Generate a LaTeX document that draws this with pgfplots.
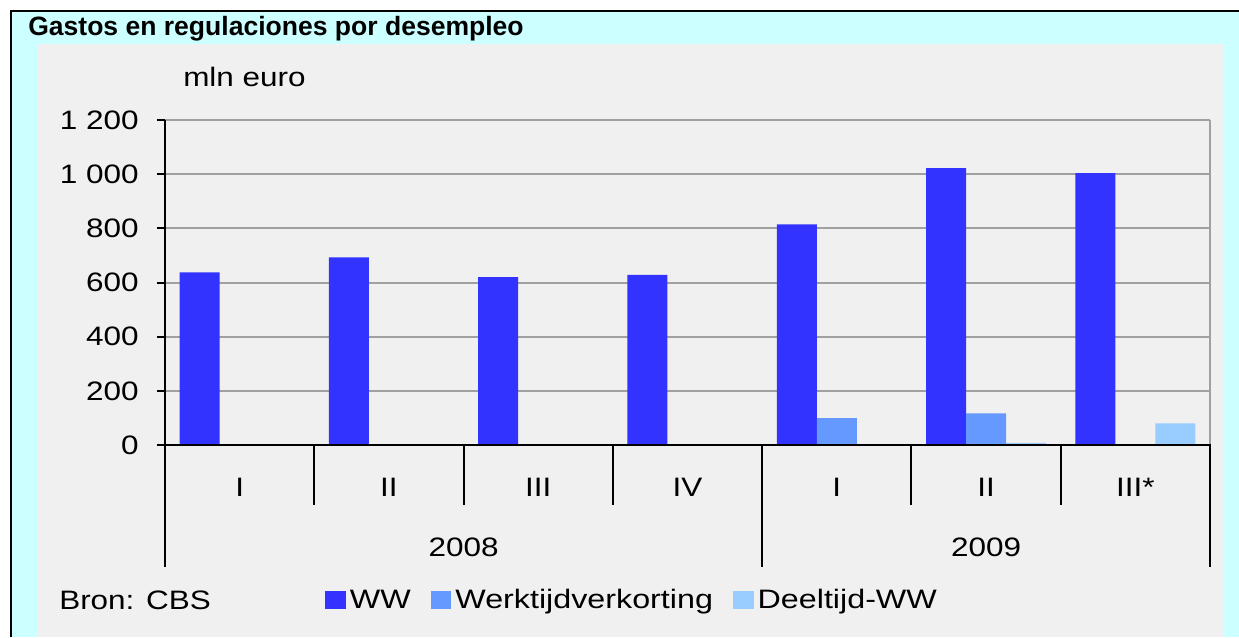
\documentclass[border=0pt]{standalone}
\usepackage{fontspec}
\setmainfont{Liberation Sans}[FakeStretch=1.18]
\newfontfamily\titlefont{Liberation Sans}
\newfontfamily\legfont{Liberation Sans}[FakeStretch=1.21]
\usepackage{pgfplots}
\pgfplotsset{compat=1.18}
\definecolor{bgcyan}{RGB}{204,255,255}
\definecolor{panel}{RGB}{240,240,240}
\definecolor{cww}{RGB}{51,51,255}
\definecolor{cwtv}{RGB}{102,153,255}
\definecolor{cdww}{RGB}{153,204,255}
\definecolor{gridc}{RGB}{160,160,160}
\newcommand{\txt}{\fontsize{20}{24}\selectfont}
\pgfplotsset{sqlegend/.style={legend image code/.code={\fill[##1] (0pt,-7pt) rectangle (15.5pt,7pt);}}}
\begin{document}
\begin{tikzpicture}[x=0.75pt,y=0.75pt]
\fill[white] (0,0) rectangle (1239,637);
\fill[bgcyan] (11,0) rectangle (1239,626);
\draw[black, line width=1.5pt] (11,0) -- (11,626) -- (1239,626);
\fill[panel] (38,0) rectangle (1224,593);
\node[anchor=base west, inner sep=0pt, font=\titlefont\bfseries\fontsize{19.9}{24}\selectfont] at (28,601) {Gastos en regulaciones por desempleo};
\node[anchor=base west, inner sep=0pt, font=\txt] at (183,550) {mln euro};
\node[anchor=west, inner sep=0pt, font=\txt] at (59,37) {Bron: CBS};
\begin{axis}[
  at={(123.75pt,144pt)}, anchor=south west, scale only axis,
  width=783.75pt, height=243.75pt,
  xmin=-0.5, xmax=6.5, ymin=0, ymax=1200,
  clip=false,
  ybar=0pt, bar width=30pt,
  axis line style={draw=none},
  xtick={0,...,6}, xticklabels={I,II,III,IV,I,II,III*},
  major x tick style={draw=none},
  xticklabel style={anchor=center, yshift=-25.5pt, inner sep=0pt},
  ytick={0,200,...,1200},
  ytick pos=left, tick align=outside, major tick length=6pt,
  major y tick style={black, line width=1.5pt},
  yticklabel style={anchor=east, inner sep=0pt, xshift=-13.5pt},
  tick label style={font=\txt},
  ymajorgrids, grid style={gridc, line width=1.5pt},
  /pgf/number format/assume math mode=true,
  /pgf/number format/1000 sep={\ },
  legend style={at={(0.153,-0.477)}, anchor=west, draw=none, fill=none,
    legend columns=-1, font=\legfont\txt, inner sep=0pt,
    nodes={inner sep=3pt},
    /tikz/every even column/.append style={column sep=12pt}},
]
\addplot[fill=cww, draw=none, sqlegend]
  coordinates {(0,637) (1,693) (2,620) (3,628) (4,815) (5,1022) (6,1004)};
\addplot[fill=cwtv, draw=none, sqlegend]
  coordinates {(0,0) (1,0) (2,0) (3,0) (4,99) (5,117) (6,0)};
\addplot[fill=cdww, draw=none, sqlegend]
  coordinates {(0,0) (1,0) (2,0) (3,0) (4,0) (5,8) (6,80)};
\legend{WW, Werktijdverkorting, Deeltijd-WW}
\draw[gridc, line width=1.5pt] (rel axis cs:1,0) -- (rel axis cs:1,1);
\draw[black, line width=1.5pt] (rel axis cs:0,1) -- (rel axis cs:0,0) -- ++(0pt,-91.5pt);
\draw[black, line width=1.5pt] (rel axis cs:0,0) -- (rel axis cs:1,0) -- ++(0pt,-91.5pt);
\draw[black, line width=1.5pt] (axis cs:3.5,0) -- ++(0pt,-91.5pt);
\draw[black, line width=1.5pt] (axis cs:0.5,0) -- ++(0pt,-45pt);
\draw[black, line width=1.5pt] (axis cs:1.5,0) -- ++(0pt,-45pt);
\draw[black, line width=1.5pt] (axis cs:2.5,0) -- ++(0pt,-45pt);
\draw[black, line width=1.5pt] (axis cs:4.5,0) -- ++(0pt,-45pt);
\draw[black, line width=1.5pt] (axis cs:5.5,0) -- ++(0pt,-45pt);
\node[font=\txt, inner sep=0pt] at (axis cs:1.5,0) [yshift=-76.5pt] {2008};
\node[font=\txt, inner sep=0pt] at (axis cs:5,0) [yshift=-76.5pt] {2009};
\end{axis}
\pgfresetboundingbox
\useasboundingbox (0,0) rectangle (1239,637);
\end{tikzpicture}
\end{document}
